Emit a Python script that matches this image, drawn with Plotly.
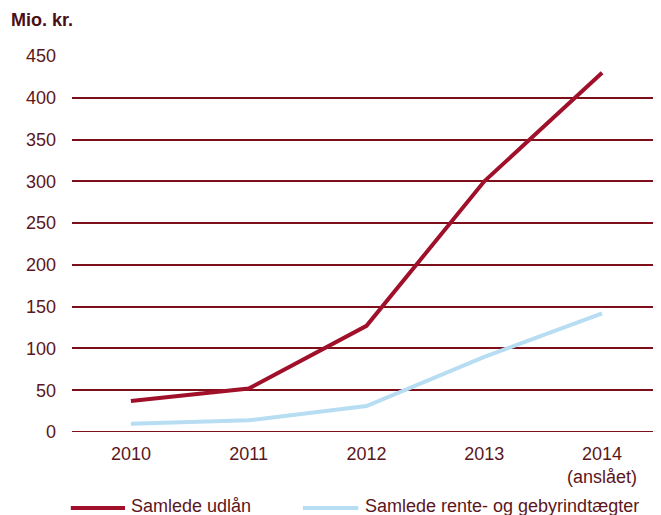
import plotly.graph_objects as go

years = ["2010", "2011", "2012", "2013", "2014<br>(anslået)"]
udlaan = [37, 52, 127, 300, 430]
indtaegter = [10, 14, 31, 90, 142]
yticks = [0, 50, 100, 150, 200, 250, 300, 350, 400, 450]
series_names = ["Samlede udlån", "Samlede rente- og gebyrindtægter"]
series_colors = ["#a0102a", "#b7ddf3"]

txt = "#5c1620"
grid = "#7d0f1b"
fig = go.Figure()
for name, vals, col in zip(series_names, [udlaan, indtaegter], series_colors):
    fig.add_trace(go.Scatter(x=years, y=vals, mode="lines", name=name,
                             line=dict(color=col, width=4), showlegend=False))

# legend drawn manually (sample line + label) below the plot
legend_pos = [(-0.002, 0.09, 0.097), (0.392, 0.486, 0.494)]
annotations = [dict(text="<b>Mio. kr.</b>", xref="paper", yref="paper", x=-0.107, y=1.096,
                    xanchor="left", yanchor="middle", showarrow=False,
                    font=dict(size=18, color="#4a0e16"))]
shapes = [dict(type="line", xref="paper", yref="y", x0=0, x1=1, y0=0, y1=0,
               line=dict(color=grid, width=2), layer="below")]
for (x0, x1, xt), name, col in zip(legend_pos, series_names, series_colors):
    shapes.append(dict(type="line", xref="paper", yref="paper", x0=x0, x1=x1, y0=-0.202, y1=-0.202,
                       line=dict(color=col, width=4)))
    annotations.append(dict(text=name, xref="paper", yref="paper", x=xt, y=-0.198,
                            xanchor="left", yanchor="middle", showarrow=False,
                            font=dict(size=18, color=txt)))

# the page body has an 8px default margin, so the figure is sized to the visible area
fig.update_layout(
    width=653, height=507,
    margin=dict(l=64, r=0, t=48, b=83, autoexpand=False),
    paper_bgcolor="white", plot_bgcolor="white",
    font=dict(family="Liberation Sans, Arial, sans-serif", size=18, color=txt),
    showlegend=False,
    xaxis=dict(type="category", range=[-0.5, 4.5], showgrid=False, showline=False, automargin=False,
               zeroline=False, ticks="outside", ticklen=5, tickcolor="rgba(0,0,0,0)",
               tickfont=dict(size=18, color=txt)),
    yaxis=dict(range=[0, 450], tickvals=yticks, showgrid=True, gridcolor=grid, gridwidth=2,
               automargin=False, zeroline=False, showline=False, ticks="",
               ticklabelstandoff=15, tickfont=dict(size=18, color=txt)),
    annotations=annotations,
    shapes=shapes,
)
fig.write_html("out.html")
